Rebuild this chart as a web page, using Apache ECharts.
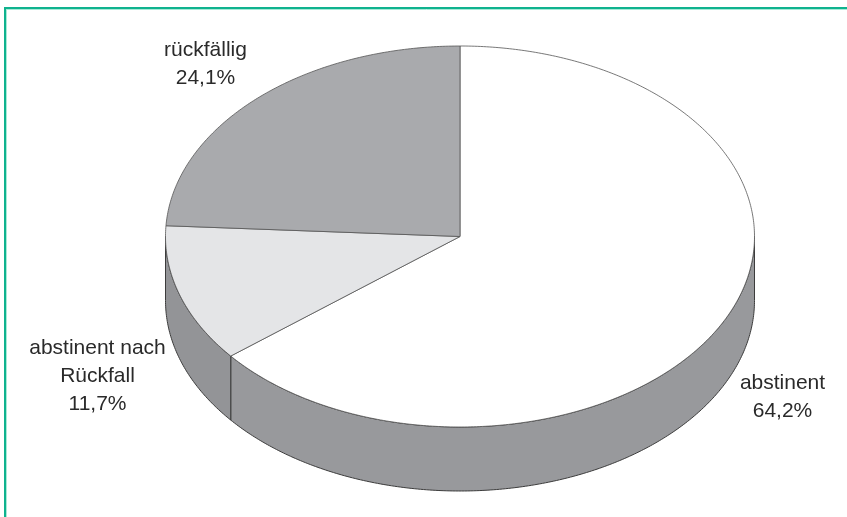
<!DOCTYPE html>
<html>
<head>
<meta charset="utf-8">
<style>html,body{margin:0;padding:0;background:#fff}#chart{width:847px;height:517px}</style>
<script src="https://cdn.jsdelivr.net/npm/echarts@6/dist/echarts.min.js"></script>
</head>
<body>
<div id="chart"></div>
<script>
// Outcome groups and their shares in percent
const categories = ['abstinent', 'abstinent nach\nRückfall', 'rückfällig'];
const shares = [64.2, 11.7, 24.1];

// Fill colours for the top faces and the side wall
const topColors = ['#ffffff', '#e4e5e7', '#a9aaad'];
const wallColors = ['#98999c', '#939497', '#98999c'];

// Geometry of the tilted disc
const disc = { cx: 460, cy: 236.5, rx: 294.5, ry: 190.5, depth: 64 };
const edgeColor = '#3c3c3c';

// Label anchors (horizontal centre, vertical centre of the first line)
const labelAnchors = [
  { x: 782.5, y: 383 },
  { x: 97.5, y: 348 },
  { x: 205.5, y: 50 }
];

const total = shares.reduce((a, b) => a + b, 0);
const toAngle = v => (v / total) * Math.PI * 2;

// Position on the rim; angle runs clockwise from twelve o'clock
const rim = (t, drop) => [
  disc.cx + disc.rx * Math.sin(t),
  disc.cy - disc.ry * Math.cos(t) + (drop || 0)
];

function arcPoints(a, b, drop) {
  const n = Math.max(2, Math.ceil((b - a) / 0.01));
  const pts = [];
  for (let i = 0; i <= n; i++) pts.push(rim(a + (b - a) * i / n, drop));
  return pts;
}

function renderSlice(params, api) {
  const i = params.dataIndex;
  let start = 0;
  for (let k = 0; k < i; k++) start += toAngle(shares[k]);
  const end = start + toAngle(api.value(0));
  const children = [];

  // Only the lower half of the disc shows a wall
  const wa = Math.max(start, Math.PI / 2);
  const wb = Math.min(end, Math.PI * 1.5);
  if (wb > wa) {
    const upper = arcPoints(wa, wb, 0);
    const lower = arcPoints(wa, wb, disc.depth).reverse();
    children.push({
      type: 'polygon',
      shape: { points: upper.concat(lower) },
      style: { fill: wallColors[i], stroke: edgeColor, lineWidth: 1 }
    });
  }

  children.push({
    type: 'polygon',
    shape: { points: [[disc.cx, disc.cy]].concat(arcPoints(start, end, 0)) },
    style: { fill: topColors[i], stroke: '#555', lineWidth: 0.8 }
  });

  const pct = api.value(0).toFixed(1).replace('.', ',') + '%';
  children.push({
    type: 'text',
    x: labelAnchors[i].x,
    y: labelAnchors[i].y - 14,
    style: {
      text: categories[i] + '\n' + pct,
      fill: '#2a2a2a',
      font: '21px "Liberation Sans", Arial, sans-serif',
      lineHeight: 28,
      align: 'center',
      verticalAlign: 'top'
    }
  });
  return { type: 'group', children };
}

const chart = echarts.init(document.getElementById('chart'), null, { renderer: 'canvas' });
chart.setOption({
  animation: false,
  backgroundColor: '#ffffff',
  graphic: [
    // Page frame: solid rule with a pale inner fringe
    { type: 'line', shape: { x1: 6, y1: 9.5, x2: 847, y2: 9.5 }, style: { stroke: '#a8ead8', lineWidth: 1 }, silent: true },
    { type: 'line', shape: { x1: 6.5, y1: 9, x2: 6.5, y2: 517 }, style: { stroke: '#a8ead8', lineWidth: 1 }, silent: true },
    { type: 'line', shape: { x1: 4, y1: 8, x2: 847, y2: 8 }, style: { stroke: '#0fb28e', lineWidth: 2 }, silent: true },
    { type: 'line', shape: { x1: 5, y1: 7, x2: 5, y2: 517 }, style: { stroke: '#0fb28e', lineWidth: 2 }, silent: true }
  ],
  series: [{
    type: 'custom',
    coordinateSystem: 'none',
    silent: true,
    data: shares.map(v => [v]),
    renderItem: renderSlice
  }]
});
</script>
</body>
</html>
